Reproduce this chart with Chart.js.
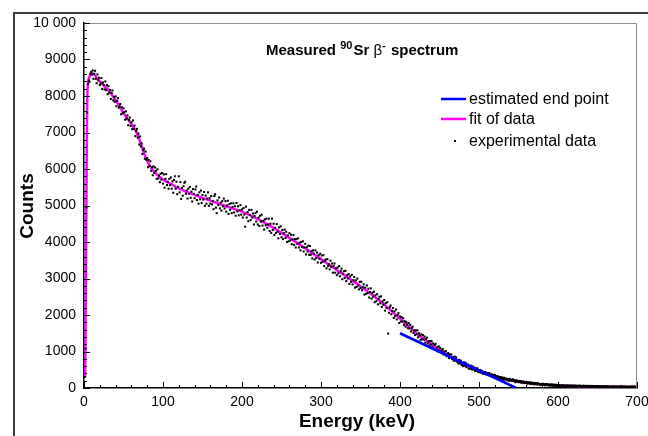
<!DOCTYPE html>
<html>
<head>
<meta charset="utf-8">
<script src="https://cdn.jsdelivr.net/npm/chart.js@4.4.0/dist/chart.umd.min.js"></script>
<style>
  html, body { margin: 0; padding: 0; background: #fff; }
  #wrap { width: 648px; height: 436px; }
</style>
</head>
<body>
<div id="wrap"><canvas id="chart" width="648" height="436"></canvas></div>
<script>
const FONT = "'Liberation Sans', Arial, Helvetica, sans-serif";

// measured counts, one value per keV starting at 1 keV
const expStartKeV = 1;
const expCounts = [
  300,1080,4950,7550,8330,8420,8390,8610,8660,8590,
  8700,8470,8610,8690,8470,8350,8590,8430,8500,8300,
  8340,8490,8190,8370,8300,8180,8400,8160,8300,8050,
  8270,8090,8170,7920,8080,8150,7880,7970,7840,7990,
  7720,7870,7940,7680,7710,7780,7500,7690,7530,7660,
  7560,7350,7580,7380,7470,7200,7340,7410,7180,7280,
  7090,7330,7100,7190,6900,7040,7100,6860,6970,6670,
  6890,6620,6700,6410,6520,6560,6280,6480,6250,6300,
  6050,6250,6080,6210,5950,6050,5830,6070,5890,6040,
  5950,5730,5990,5740,5820,5640,5870,5710,5890,5600,
  5850,5490,5730,5860,5560,5650,5460,5730,5560,5770,
  5460,5660,5350,5700,5800,5460,5650,5310,5510,5800,
  5360,5640,5180,5480,5270,5530,5620,5650,5320,5410,
  5190,5460,5320,5510,5210,5380,5110,5450,5320,5200,
  5440,5520,5150,5290,5050,5360,5170,5410,5070,5290,
  5160,5370,4990,5270,5050,5190,5360,4990,5200,5050,
  5260,5030,5120,4900,5260,5310,4940,4790,5140,5010,
  5220,4920,5080,4860,5120,4980,5190,4920,5120,4830,
  5000,5130,4770,5040,4880,5060,4790,4960,5060,4810,
  4980,4720,5070,4840,4980,4730,4870,5010,4750,4890,
  4670,4930,4750,4420,4970,4670,4820,4570,4880,4740,
  4600,4880,4670,4780,4480,4710,4790,4560,4830,4480,
  4670,4440,4720,4560,4750,4450,4580,4340,4620,4460,
  4640,4390,4480,4640,4300,4500,4250,4640,4330,4500,
  4190,4390,4250,4490,4280,4100,4400,4220,4430,4130,
  4330,4080,4240,4340,4110,4280,4000,4180,4020,4240,
  4040,4200,3940,4070,4190,3920,4080,3850,4080,3950,
  4100,3850,3980,3770,4000,3860,4020,3740,3850,3950,
  3660,3860,3740,3900,3650,3890,3650,3750,3550,3770,
  3680,3520,3770,3560,3710,3440,3640,3540,3680,3430,
  3630,3460,3640,3340,3490,3520,3280,3530,3340,3390,
  3250,3490,3320,3410,3160,3340,3410,3160,3280,3090,
  3300,3140,3340,3060,3200,3270,2980,3130,3200,3010,
  3210,2930,3090,3000,3120,2850,3060,2910,3100,2840,
  2950,3040,2750,2950,2770,3000,2810,2700,2910,2740,
  2910,2680,2760,2840,2560,2750,2580,2810,2600,2720,
  2480,2630,2730,2450,2610,2500,2640,2350,2540,2380,
  2570,2290,2440,2500,2320,2510,2220,2370,2280,2410,
  2120,2330,2190,2350,1490,2060,2210,2260,2020,2110,
  2190,1920,2100,1970,2150,1880,2000,2050,1780,1960,
  1820,1940,1820,1910,1730,1830,1680,1810,1740,1640,
  1780,1630,1730,1550,1650,1680,1510,1580,1450,1580,
  1470,1580,1390,1500,1440,1320,1470,1330,1450,1330,
  1410,1240,1340,1380,1220,1280,1160,1290,1190,1280,
  1120,1220,1070,1180,1210,1050,1110,1000,1140,1030,
  1100,980,1030,1070,920,1000,920,1010,870,930,
  960,820,920,850,920,790,840,750,860,750,
  840,720,770,670,770,680,750,630,680,600,
  700,610,690,570,630,640,530,610,530,610,
  510,590,510,560,470,540,470,540,440,490,
  430,490,420,460,390,440,400,440,370,400,
  410,350,410,340,360,380,300,350,310,360,
  280,330,290,320,250,300,250,300,250,280,
  230,280,240,260,210,240,250,200,250,210,
  230,190,240,190,210,160,210,180,200,160,
  190,160,190,140,170,180,140,160,140,170,
  120,150,130,160,110,150,120,140,100,140,
  130,100,130,100,130,100,110,80,110,90,
  116,84,103,72,100,109,78,96,65,94,
  72,101,59,88,86,54,93,61,80,58,
  82,56,75,49,68,78,52,72,46,66,
  70,45,74,54,48,73,47,61,66,40,
  70,49,64,38,58,62,42,66,41,55,
  39,64,43,58,32,57,51,36,60,35,
  54,34,58,38,52,27,46,51,30,54,
  29,48,33,52,27,42,47,22,46,31,
  46,26,51,30,40,20,45,30,44,24,
  49,29,38,23,43,28,42,22,47,27,
  36,41,21,46,25,40,20,35,25,39,
  19,39,24,43,18,33,38,18,32,22
];

// fit of the data
const fitEnergy = [1.5, 3, 4, 5.5, 8, 10, 13, 20, 30, 37, 45, 50, 57, 63, 68, 73, 78, 84, 92, 100,
  110, 120, 135, 150, 180, 200, 225, 250, 275, 300, 325, 350, 375, 400, 426, 451, 477, 502, 527,
  553, 578, 604, 654, 700];
const fitCounts = [300, 5000, 7800, 8400, 8580, 8620, 8580, 8400, 8180, 7980, 7720, 7530, 7320, 7140,
  6930, 6620, 6320, 6060, 5860, 5710, 5590, 5470, 5330, 5210, 4980, 4830, 4570, 4250, 3900, 3530,
  3160, 2790, 2380, 1900, 1410, 1040, 690, 446, 270, 165, 100, 64, 37, 27];

// estimated end point line
const endEnergy = [400, 547];
const endCounts = [1500, 0];

const legendLabels = ['estimated end point', 'fit of data', 'experimental data'];

const toPoints = (xs, ys) => xs.map((v, i) => ({ x: v, y: ys[i] }));

const decor = {
  id: 'decor',
  beforeDraw(chart) {
    const ctx = chart.ctx;
    ctx.save();
    ctx.fillStyle = '#fff';
    ctx.fillRect(0, 0, chart.width, chart.height);
    // outer frame
    ctx.strokeStyle = '#3c3c3c';
    ctx.lineWidth = 2;
    ctx.beginPath();
    ctx.moveTo(14, chart.height);
    ctx.lineTo(14, 13);
    ctx.lineTo(chart.width, 13);
    ctx.stroke();
    ctx.restore();
  },
  afterDraw(chart) {
    const { ctx, chartArea: a, scales: { x, y } } = chart;
    ctx.save();
    // top / right frame of the plot
    ctx.strokeStyle = '#8c8c8c';
    ctx.lineWidth = 1;
    ctx.beginPath();
    ctx.moveTo(a.left, a.top + 0.5);
    ctx.lineTo(a.right - 0.5, a.top + 0.5);
    ctx.lineTo(a.right - 0.5, a.bottom);
    ctx.stroke();

    // inner ticks
    ctx.strokeStyle = '#000';
    ctx.beginPath();
    for (let v = 0; v <= 700; v += 20) {
      const px = Math.round(x.getPixelForValue(v)) + 0.5;
      const len = v % 100 === 0 ? 6 : 3;
      ctx.moveTo(px, a.bottom);
      ctx.lineTo(px, a.bottom - len);
    }
    for (let v = 0; v <= 10000; v += 200) {
      const py = Math.round(y.getPixelForValue(v)) + 0.5;
      const len = v % 1000 === 0 ? 6 : 3;
      ctx.moveTo(a.left, py);
      ctx.lineTo(a.left + len, py);
    }
    ctx.stroke();

    // title
    const parts = [
      ['Measured ', 'bold 15px', 0],
      ['90', 'bold 11px', -6],
      ['Sr ', 'bold 15px', 0],
      ['\u03b2', '15px', 0],
      ['-', 'bold 11px', -6],
      [' spectrum', 'bold 15px', 0]
    ];
    ctx.fillStyle = '#000';
    ctx.textBaseline = 'alphabetic';
    ctx.textAlign = 'left';
    let tx = 266;
    parts.forEach(([t, f, dy]) => {
      ctx.font = f + ' ' + FONT;
      ctx.fillText(t, tx, 55 + dy);
      tx += ctx.measureText(t).width + (dy ? 1 : 0);
    });

    // legend
    const ds = chart.data.datasets;
    const rows = [99, 119, 141];
    ctx.font = '16px ' + FONT;
    legendLabels.forEach((label, i) => {
      const d = ds.find(s => s.label === label);
      const ry = rows[i];
      if (d.showLine === false) {
        ctx.fillStyle = d.pointBackgroundColor;
        ctx.fillRect(454, ry - 1, 2, 2);
      } else {
        ctx.strokeStyle = d.borderColor;
        ctx.lineWidth = 2.5;
        ctx.beginPath();
        ctx.moveTo(441, ry);
        ctx.lineTo(466, ry);
        ctx.stroke();
      }
      ctx.fillStyle = '#000';
      ctx.textBaseline = 'middle';
      ctx.fillText(label, 469, ry + 1);
    });

    // axis titles
    ctx.font = 'bold 19px ' + FONT;
    ctx.textAlign = 'center';
    ctx.textBaseline = 'alphabetic';
    ctx.fillText('Energy (keV)', 357, 427);
    ctx.translate(33, 206);
    ctx.rotate(-Math.PI / 2);
    ctx.fillText('Counts', 0, 0);
    ctx.restore();
  }
};

new Chart(document.getElementById('chart'), {
  type: 'scatter',
  data: {
    datasets: [
      {
        label: 'estimated end point',
        type: 'line',
        data: toPoints(endEnergy, endCounts),
        borderColor: '#0000ff',
        borderWidth: 2.5,
        pointRadius: 0,
        fill: false,
        order: 0
      },
      {
        label: 'fit of data',
        type: 'line',
        data: toPoints(fitEnergy, fitCounts),
        borderColor: '#ff00ff',
        borderWidth: 2.5,
        pointRadius: 0,
        cubicInterpolationMode: 'monotone',
        fill: false,
        order: 2
      },
      {
        label: 'experimental data',
        data: expCounts.map((c, i) => ({ x: expStartKeV + i, y: c })),
        showLine: false,
        pointStyle: 'rect',
        pointRadius: 1.45,
        pointBorderWidth: 0,
        pointBackgroundColor: '#000',
        pointBorderColor: '#000',
        order: 1
      }
    ]
  },
  options: {
    responsive: false,
    animation: false,
    devicePixelRatio: 1,
    layout: { padding: { left: 0, top: 23, right: 11, bottom: 0 } },
    plugins: { legend: { display: false }, tooltip: { enabled: false } },
    scales: {
      x: {
        type: 'linear',
        min: 0,
        max: 700,
        // the "700" label may run off the right edge, as in the original
        afterFit: s => { s.height = 48; s.paddingRight = 0; s.paddingLeft = 0; },
        grid: { display: false, drawTicks: false },
        border: { display: true, color: '#000', width: 1.5 },
        ticks: { stepSize: 100, color: '#000', padding: 6, maxRotation: 0, font: { family: FONT, size: 14 } }
      },
      y: {
        min: 0,
        max: 10000,
        afterFit: s => { s.width = 84; s.paddingTop = 0; s.paddingBottom = 0; },
        grid: { display: false, drawTicks: false },
        border: { display: true, color: '#000', width: 1.5 },
        ticks: {
          stepSize: 1000,
          color: '#000',
          padding: 8,
          font: { family: FONT, size: 14 },
          callback: v => (v === 10000 ? '10 000' : String(v))
        }
      }
    }
  },
  plugins: [decor]
});
</script>
</body>
</html>
